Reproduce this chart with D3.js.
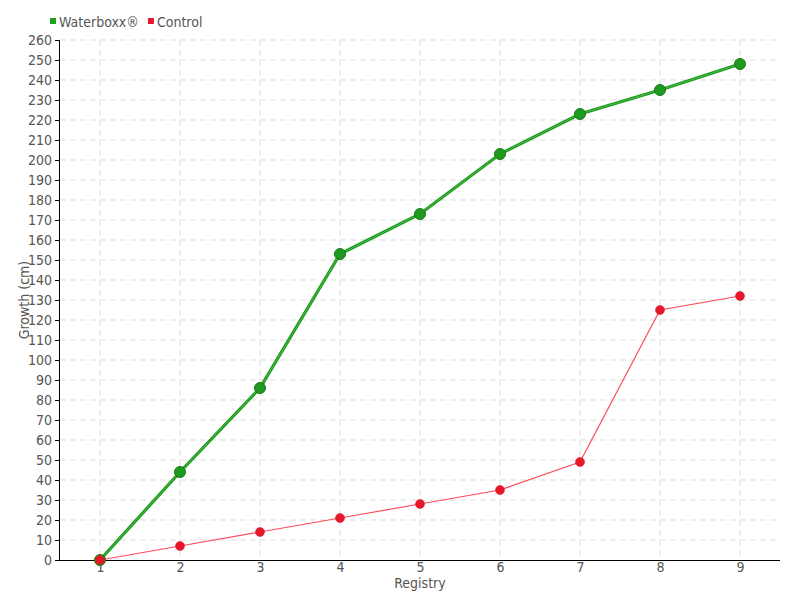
<!DOCTYPE html>
<html><head><meta charset="utf-8">
<script src="https://cdn.jsdelivr.net/npm/d3@7"></script>
<style>
body{margin:0;background:#fff;}
text{font-family:"Liberation Sans Narrow","DejaVu Sans Condensed",sans-serif;fill:#555;}
</style></head>
<body><svg id="c" width="800" height="600"></svg>
<script>
const registry = [1,2,3,4,5,6,7,8,9];
const waterboxx = [0,44,86,153,173,203,223,235,248];
const control = [0,7,14,21,28,35,49,125,132];
const yTicks = d3.range(0,261,10);
const seriesNames = ["Waterboxx®","Control"];

const svg = d3.select("#c");
const m = {l:60,r:20,t:40,b:40};
const W=800,H=600;
const x = d3.scaleLinear().domain([0.5,9.5]).range([m.l,W-m.r]);
const y = d3.scaleLinear().domain([0,260]).range([H-m.b,m.t]);

// grid
const g = svg.append("g");
g.selectAll(".hg").data(yTicks.filter(d=>d>0)).enter().append("line")
 .attr("x1",m.l).attr("x2",W-m.r).attr("y1",d=>y(d)).attr("y2",d=>y(d))
 .attr("stroke","#ddd").attr("stroke-dasharray","6,4");
g.selectAll(".vg").data(registry).enter().append("line")
 .attr("x1",d=>x(d)).attr("x2",d=>x(d)).attr("y1",m.t).attr("y2",H-m.b)
 .attr("stroke","#ddd").attr("stroke-dasharray","6,4");

// axes
const ya = svg.append("g").attr("transform",`translate(${m.l},0)`)
 .call(d3.axisLeft(y).tickValues(yTicks).tickSize(5).tickPadding(3));
ya.select(".domain").attr("stroke","#000").attr("d",`M-0.5,${y(260)}V${y(0)}`);
ya.selectAll(".tick line").attr("stroke","#000");
ya.selectAll("text").style("font-size","14px").attr("fill","#555");

const xa = svg.append("g").attr("transform",`translate(0,${H-m.b})`)
 .call(d3.axisBottom(x).tickValues(registry).tickSize(0).tickPadding(2).tickFormat(d3.format("d")));
xa.select(".domain").attr("stroke","#000").attr("d",`M${m.l},0.5H${W-m.r}`);
xa.selectAll("text").style("font-size","14px").attr("fill","#555");

svg.append("text").attr("x",(m.l+W-m.r)/2).attr("y",588).attr("text-anchor","middle")
 .style("font-size","14px").text("Registry");
svg.append("text").attr("transform",`translate(29,${(m.t+H-m.b)/2}) rotate(-90)`)
 .attr("text-anchor","middle").style("font-size","14px").text("Growth (cm)");

const line = d3.line().x((d,i)=>x(registry[i])).y(d=>y(d));

// control
svg.append("path").datum(control).attr("d",line).attr("fill","none")
 .attr("stroke","#ff4a5a").attr("stroke-width",1.2);
// waterboxx
svg.append("path").datum(waterboxx).attr("d",line).attr("fill","none")
 .attr("stroke","#1c9a1c").attr("stroke-width",3.2);
svg.append("path").datum(waterboxx).attr("d",line).attr("fill","none")
 .attr("stroke","#6fd06f").attr("stroke-width",0.8).attr("stroke-opacity",0.7);

svg.selectAll(".gd").data(waterboxx).enter().append("circle")
 .attr("cx",(d,i)=>x(registry[i])).attr("cy",d=>y(d)).attr("r",5.5)
 .attr("fill","#1f9a1f").attr("stroke","#177a17").attr("stroke-width",1);
svg.selectAll(".rd").data(control).enter().append("circle")
 .attr("cx",(d,i)=>x(registry[i])).attr("cy",d=>y(d)).attr("r",4.5)
 .attr("fill","#e8182a").attr("stroke","#d01020").attr("stroke-width",0.5);

// legend
const colors = ["#1ea31e","#e8182a"];
let lx = 50;
seriesNames.forEach((n,i)=>{
  svg.append("rect").attr("x",lx).attr("y",18).attr("width",6).attr("height",6).attr("fill",colors[i]);
  const t = svg.append("text").attr("x",lx+9).attr("y",27).style("font-size","14px").text(n);
  lx += 9 + t.node().getComputedTextLength() + 9;
});
</script></body></html>
